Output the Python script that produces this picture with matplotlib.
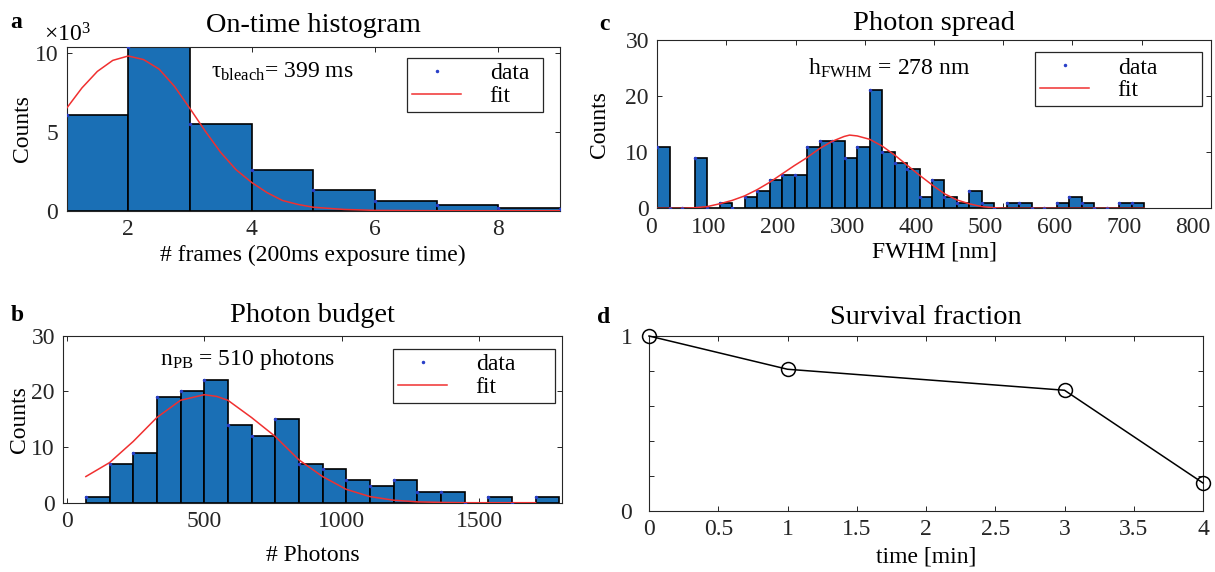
import numpy as np
import matplotlib.pyplot as plt
from matplotlib.ticker import FuncFormatter

plt.rcParams['font.family'] = ['Liberation Serif', 'DejaVu Serif']
plt.rcParams['mathtext.fontset'] = 'custom'
plt.rcParams['mathtext.rm'] = 'Liberation Serif'
plt.rcParams['mathtext.it'] = 'Liberation Serif:italic'
plt.rcParams['font.size'] = 17
plt.rcParams['axes.linewidth'] = 0.8
plt.rcParams['axes.edgecolor'] = '#262626'
for ax_name in ['xtick', 'ytick']:
    plt.rcParams[ax_name + '.direction'] = 'in'
    plt.rcParams[ax_name + '.major.size'] = 3.6
    plt.rcParams[ax_name + '.major.width'] = 0.7
    plt.rcParams[ax_name + '.color'] = '#262626'
    plt.rcParams[ax_name + '.major.pad'] = 6
plt.rcParams['xtick.top'] = True
plt.rcParams['ytick.right'] = True

# a: on-time histogram (bins of one frame, from 1 to 9)
ontime_edges = [1, 2, 3, 4, 5, 6, 7, 8, 9]
ontime_counts = [6100, 10420, 5510, 2570, 1310, 610, 340, 150]
ontime_dots = [6100, 10420, 5510, 2570, 1310, 610, 340, 150, 80]
ontime_fit_x = [1, 1.25, 1.5, 1.75, 2, 2.25, 2.5, 2.75, 3, 3.25, 3.5, 3.75,
                4, 4.25, 4.5, 4.75, 5, 5.5, 6, 7, 8, 9]
ontime_fit_y = [6500, 7800, 8850, 9550, 9830, 9600, 9000, 7900, 6500, 5050, 3700, 2600,
                1800, 1150, 650, 400, 220, 80, 20, 0, 0, 0]

# b: photon budget
photon_bin_start = 70
photon_bin_width = 86
photon_counts = [1, 7, 9, 19, 20, 22, 14, 12, 15, 7, 6, 4, 3, 4, 2, 2, 0, 1, 0, 1]
photon_fit_x = [70, 156, 242, 328, 414, 500, 545, 586, 672, 758, 844, 930, 1016,
                1102, 1188, 1274, 1360, 1446, 1704]
photon_fit_y = [4.7, 7.2, 11.0, 15.3, 18.4, 19.4, 19.1, 18.4, 15.3, 11.9, 7.7, 4.7, 2.4,
                1.1, 0.45, 0.15, 0.05, 0.0, 0.0]

# c: photon spread (FWHM)
fwhm_bin_start = 0
fwhm_bin_width = 18.05
fwhm_counts = [11, 0, 0, 9, 0, 1, 0, 2, 3, 5, 6, 6, 11, 12, 12, 9, 11, 21, 10, 8,
               7, 2, 5, 2, 1, 3, 1, 0, 1, 1, 0, 0, 1, 2, 1, 0, 0, 1, 1]
fwhm_fit_x = [0, 36, 54, 72, 90, 108, 126, 144, 162, 180, 198, 216, 234, 252, 270, 278,
              289, 307, 325, 343, 361, 379, 397, 415, 433, 451, 469, 487, 505, 560, 704]
fwhm_fit_y = [0, 0, 0.1, 0.3, 0.8, 1.4, 2.2, 3.3, 4.6, 6.1, 7.6, 9.0, 10.6, 11.9, 12.8, 13.05,
              12.9, 12.3, 11.1, 9.5, 7.7, 5.9, 4.2, 2.6, 1.5, 0.8, 0.3, 0.1, 0, 0, 0]

# d: survival fraction
survival_time = [0, 1, 3, 4]
survival_frac = [1.0, 0.81, 0.69, 0.16]

bar_color = '#1a6fb5'
dot_color = '#2a40c8'
fit_color = '#f03030'

W, H = 1215, 572
fig = plt.figure(figsize=(W / 100, H / 100), dpi=100)


def px_axes(x0, y0, x1, y1):
    return fig.add_axes([x0 / W, 1 - y1 / H, (x1 - x0) / W, (y1 - y0) / H])


def ftext(x, y, s, **kw):
    return fig.text(x / W, 1 - y / H, s, va='baseline', **kw)


def histo(ax, edges, counts, dots, fit_x, fit_y):
    edges = np.asarray(edges, float)
    ax.bar(edges[:-1], counts, width=np.diff(edges), align='edge', color=bar_color,
           edgecolor='black', linewidth=1.2, zorder=2)
    ax.plot(edges[:len(dots)], dots, '.', color=dot_color, ms=3, label='data', zorder=3)
    ax.plot(fit_x, fit_y, '-', color=fit_color, lw=1.1, label='fit', zorder=4)


def legend_px(ax, x0, y0, x1, y1):
    leg = ax.legend(loc='upper left', mode='expand', borderaxespad=0,
                    bbox_to_anchor=(x0 / W, 1 - y1 / H, (x1 - x0) / W, (y1 - y0) / H),
                    bbox_transform=fig.transFigure, fancybox=False, framealpha=1,
                    edgecolor='#262626', handlelength=2.1, handletextpad=1.2,
                    borderpad=0.2, labelspacing=0.05, numpoints=1)
    leg.get_frame().set_linewidth(0.9)


# panel a
ax_a = px_axes(66.5, 46.7, 560, 210.7)
histo(ax_a, ontime_edges, ontime_counts, ontime_dots, ontime_fit_x, ontime_fit_y)
ax_a.set_xlim(1, 9)
ax_a.set_ylim(0, max(ontime_counts))
ax_a.set_xticks([2, 4, 6, 8])
ax_a.set_yticks([0, 5000, 10000])
ax_a.yaxis.set_major_formatter(FuncFormatter(lambda v, p: f'{v / 1000:g}'))
ax_a.set_title('On-time histogram', pad=10.8)
ax_a.set_xlabel('# frames (200ms exposure time)')
ax_a.set_ylabel('Counts')
ax_a.xaxis.set_label_coords(0.5, -0.207)
ax_a.yaxis.set_label_coords(-0.068, 0.5)
legend_px(ax_a, 407, 58, 543, 116)

# panel b
ax_b = px_axes(63.3, 335.7, 562, 502.7)
b_edges = photon_bin_start + photon_bin_width * np.arange(len(photon_counts) + 1)
histo(ax_b, b_edges, photon_counts, photon_counts, photon_fit_x, photon_fit_y)
ax_b.set_xlim(-12, 1800)
ax_b.set_ylim(0, 30)
ax_b.set_xticks([0, 500, 1000, 1500])
ax_b.set_yticks([0, 10, 20, 30])
ax_b.set_title('Photon budget', pad=10)
ax_b.set_xlabel('# Photons')
ax_b.set_ylabel('Counts')
ax_b.xaxis.set_label_coords(0.5, -0.253)
ax_b.yaxis.set_label_coords(-0.066, 0.5)
legend_px(ax_b, 393, 349, 555, 407)

# panel c
ax_c = px_axes(657.3, 40, 1210.7, 208.3)
c_edges = fwhm_bin_start + fwhm_bin_width * np.arange(len(fwhm_counts) + 1)
histo(ax_c, c_edges, fwhm_counts, fwhm_counts, fwhm_fit_x, fwhm_fit_y)
ax_c.set_xlim(0, 800)
ax_c.set_ylim(0, 30)
ax_c.set_xticks(np.arange(0, 801, 100))
ax_c.set_yticks([0, 10, 20, 30])
plt.setp(ax_c.get_xticklabels(), ha='right')
ax_c.set_title('Photon spread', pad=7.2)
ax_c.set_xlabel('FWHM [nm]')
ax_c.set_ylabel('Counts')
ax_c.xaxis.set_label_coords(0.5, -0.196)
ax_c.yaxis.set_label_coords(-0.085, 0.5)
legend_px(ax_c, 1035, 52.3, 1201.7, 110.7)

# panel d
ax_d = px_axes(649, 336, 1203, 511)
ax_d.plot(survival_time, survival_frac, '-o', color='black', lw=1.1, ms=10,
          mfc='none', mew=1.1, clip_on=False, zorder=3)
ax_d.set_xlim(0, 4)
ax_d.set_ylim(0, 1)
ax_d.set_xticks(np.arange(0, 4.01, 0.5))
ax_d.xaxis.set_major_formatter(FuncFormatter(lambda v, p: f'{v:g}'))
ax_d.set_yticks([0, 0.2, 0.4, 0.6, 0.8, 1])
ax_d.set_yticklabels(['0', '', '', '', '', '1'])
ax_d.tick_params(axis='y', pad=12)
ax_d.set_title('Survival fraction', pad=8.4)
ax_d.set_xlabel('time [min]')
ax_d.xaxis.set_label_coords(0.5, -0.2)

# annotations and panel letters
ftext(44, 42, r'$\times$10$^3$')
ftext(211, 78, r'τ$_{\mathrm{bleach}}$= 399 ms')
ftext(160, 365, r'n$_{\mathrm{PB}}$ = 510 photons')
ftext(808, 75, r'h$_{\mathrm{FWHM}}$ = 278 nm')
for letter, x, y in [('a', 10, 28), ('b', 11, 321), ('c', 599, 30), ('d', 597, 323)]:
    ftext(x, y, letter, weight='bold')

fig.savefig('out.png', dpi=100)
